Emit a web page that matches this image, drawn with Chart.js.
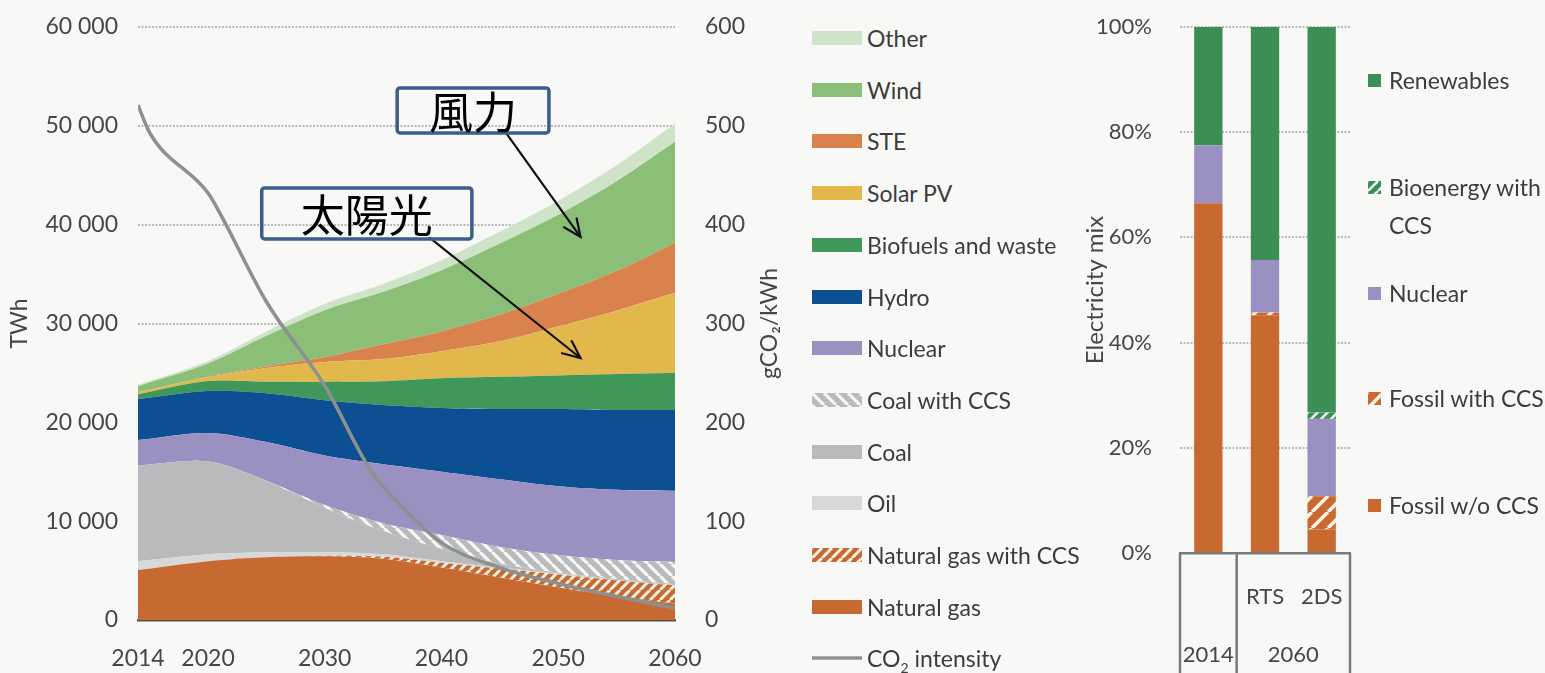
<!DOCTYPE html>
<html>
<head>
<meta charset="utf-8">
<script src="https://cdn.jsdelivr.net/npm/chart.js@4.4.1/dist/chart.umd.min.js"></script>
<style>
  html, body { margin: 0; padding: 0; background: #f8f8f6; }
  #wrap { position: relative; width: 1545px; height: 673px; overflow: hidden; }
  canvas { position: absolute; }
  .leg { position: absolute; color: #3c3c3c; white-space: nowrap; }
  .leg canvas { position: absolute; }
</style>
</head>
<body>
<div id="wrap">
  <canvas id="area" width="800" height="673" style="left:0;top:0;width:800px;height:673px"></canvas>
  <canvas id="mix" width="340" height="673" style="left:1040px;top:0;width:340px;height:673px"></canvas>
  <div id="legendArea"></div>
  <div id="legendMix"></div>
</div>
<script>
// ---- Electricity generation by source (TWh) ----
const years = [2014, 2020, 2025, 2030, 2035, 2040, 2045, 2050, 2055, 2060];
const naturalGas    = [5050, 5950, 6350, 6450, 6200, 5300, 4300, 3300, 2400, 1650];
const naturalGasCcs = [0, 0, 0, 50, 200, 500, 900, 1300, 1600, 1850];
const oil           = [900, 700, 500, 350, 250, 150, 100, 70, 50, 30];
const coal          = [9700, 9400, 7220, 4490, 2350, 1250, 390, 110, 100, 100];
const coalCcs       = [0, 0, 30, 300, 800, 1400, 1700, 1800, 1920, 2240];
const nuclear       = [2550, 2870, 3900, 5000, 5950, 6400, 6850, 6950, 7100, 7200];
const hydro         = [4150, 4250, 4950, 5600, 6000, 6450, 7110, 7820, 8080, 8180];
const biofuels      = [500, 1000, 1150, 1850, 2400, 3000, 3250, 3400, 3650, 3750];
const solarPv       = [200, 400, 1400, 2010, 2250, 2750, 3600, 4950, 6400, 8100];
const ste           = [10, 50, 150, 500, 1500, 2000, 2700, 3300, 4000, 5050];
const wind          = [600, 1330, 3100, 4750, 5300, 6200, 7200, 8000, 9100, 10250];
const other         = [130, 250, 450, 650, 800, 1000, 1200, 1400, 1600, 1800];

// ---- CO2 intensity of electricity (gCO2/kWh) ----
const co2Years     = [2014, 2015, 2020, 2021, 2025, 2030, 2034, 2037, 2040, 2045, 2050, 2055, 2060];
const co2Intensity = [521, 493, 432, 412, 322, 237, 150, 110, 78, 53, 37, 24, 12];

// ---- axis ticks ----
const yearTicks = [2014, 2020, 2030, 2040, 2050, 2060];
const twhTicks = [0, 10000, 20000, 30000, 40000, 50000, 60000];
const intensityTicks = [0, 100, 200, 300, 400, 500, 600];

// ---- Electricity mix (share, %) ----
const mixCategories = ['2014', 'RTS', '2DS'];
const mixScenarioLabels = ['', 'RTS', '2DS'];
const mixGroups = [{ name: '2014', first: 0, last: 0 }, { name: '2060', first: 1, last: 2 }];
const fossilNoCcs = [66.5, 45.2, 4.5];
const fossilCcs   = [0, 0.5, 6.3];
const nuclearMix  = [11.0, 10.0, 14.7];
const bioCcs      = [0, 0, 1.2];
const renewables  = [22.5, 44.3, 73.3];
const mixTicks = [0, 20, 40, 60, 80, 100];

// ---- callout labels on the generation chart ----
const callouts = [
  { label: '風力',   box: [2036.2, 53840, 2049.2, 49280], from: [2045.4, 49490], to: [2051.9, 38760] },
  { label: '太陽光', box: [2024.6, 43720, 2042.6, 38560], from: [2039.0, 38660], to: [2051.9, 26510] }
];

const FONT = 'Lato, "DejaVu Sans Condensed", sans-serif';
const TEXT = '#464646';
Chart.defaults.font.family = FONT;
Chart.defaults.color = TEXT;

// hatch fill: dir > 0 draws '/', dir < 0 draws '\'
function hatch(bg, fg, size, lw, dir) {
  const c = document.createElement('canvas');
  c.width = size; c.height = size;
  const g = c.getContext('2d');
  g.fillStyle = bg; g.fillRect(0, 0, size, size);
  g.strokeStyle = fg; g.lineWidth = lw;
  g.beginPath();
  for (let k = -1; k <= 1; k++) {
    if (dir > 0) { g.moveTo(k * size, size); g.lineTo(k * size + size, 0); }
    else { g.moveTo(k * size, 0); g.lineTo(k * size + size, size); }
  }
  g.stroke();
  return g.createPattern(c, 'repeat');
}

const C = {
  other: '#cfe3c8', wind: '#8bbf78', ste: '#d9824e', solar: '#e2b84c', bio: '#3f975a',
  hydro: '#0c4f93', nuclear: '#9a90c2', coal: '#b8babb', oil: '#d7d8da', gas: '#c76a31',
  co2: '#8b9191', renew: '#3b8f55', fossil: '#c8692f'
};
const coalCcsFill = hatch(C.coal, '#f6f6f4', 12, 3.2, -1);
const gasCcsFill = hatch(C.gas, '#f6efe4', 10, 3, 1);
const fossilCcsFill = hatch(C.fossil, '#f7f1e8', 16, 3.5, 1);
const bioCcsFill = hatch(C.renew, '#f3f6f2', 10, 2.5, 1);

// invisible tick marks used as a fixed gap between axis and labels
const gapTicks = len => ({ drawTicks: true, tickLength: len, tickColor: 'rgba(0,0,0,0)' });

const areaSeries = [
  { name: 'Natural gas', values: naturalGas, fill: C.gas },
  { name: 'Natural gas with CCS', values: naturalGasCcs, fill: gasCcsFill },
  { name: 'Oil', values: oil, fill: C.oil },
  { name: 'Coal', values: coal, fill: C.coal },
  { name: 'Coal with CCS', values: coalCcs, fill: coalCcsFill },
  { name: 'Nuclear', values: nuclear, fill: C.nuclear },
  { name: 'Hydro', values: hydro, fill: C.hydro },
  { name: 'Biofuels and waste', values: biofuels, fill: C.bio },
  { name: 'Solar PV', values: solarPv, fill: C.solar },
  { name: 'STE', values: ste, fill: C.ste },
  { name: 'Wind', values: wind, fill: C.wind },
  { name: 'Other', values: other, fill: C.other }
];

const areaDatasets = areaSeries.map((s, i) => ({
  label: s.name,
  data: years.map((yr, k) => ({ x: yr, y: s.values[k] })),
  backgroundColor: s.fill,
  borderWidth: 0,
  pointRadius: 0,
  tension: 0.3,
  fill: i === 0 ? 'origin' : '-1',
  yAxisID: 'y',
  order: 1
}));

const co2Dataset = {
  label: 'CO₂ intensity',
  data: co2Years.map((yr, k) => ({ x: yr, y: co2Intensity[k] })),
  borderColor: C.co2,
  borderWidth: 3.5,
  pointRadius: 0,
  fill: false,
  cubicInterpolationMode: 'monotone',
  yAxisID: 'y2',
  order: 0
};

const calloutPlugin = {
  id: 'callouts',
  afterDatasetsDraw(chart) {
    const { ctx, scales: { x, y } } = chart;
    ctx.save();
    for (const c of callouts) {
      const ax = x.getPixelForValue(c.from[0]), ay = y.getPixelForValue(c.from[1]);
      const bx = x.getPixelForValue(c.to[0]), by = y.getPixelForValue(c.to[1]);
      ctx.strokeStyle = '#111'; ctx.lineWidth = 2.2; ctx.lineCap = 'round';
      ctx.beginPath(); ctx.moveTo(ax, ay); ctx.lineTo(bx, by); ctx.stroke();
      const ang = Math.atan2(by - ay, bx - ax), L = 19, sp = 0.42;
      ctx.beginPath();
      ctx.moveTo(bx - L * Math.cos(ang - sp), by - L * Math.sin(ang - sp));
      ctx.lineTo(bx, by);
      ctx.lineTo(bx - L * Math.cos(ang + sp), by - L * Math.sin(ang + sp));
      ctx.stroke();
      const x0 = x.getPixelForValue(c.box[0]), y0 = y.getPixelForValue(c.box[1]);
      const x1 = x.getPixelForValue(c.box[2]), y1 = y.getPixelForValue(c.box[3]);
      ctx.lineWidth = 3.5; ctx.strokeStyle = '#3b5e8c';
      ctx.beginPath(); ctx.roundRect(x0, y0, x1 - x0, y1 - y0, 3); ctx.stroke();
      ctx.fillStyle = '#000';
      ctx.font = '44px "Noto Sans CJK JP"';
      ctx.textAlign = 'center'; ctx.textBaseline = 'middle';
      ctx.fillText(c.label, (x0 + x1) / 2, (y0 + y1) / 2 + 2);
    }
    ctx.restore();
  }
};

// right-hand axis title, read bottom to top like the left one
const intensityTitlePlugin = {
  id: 'intensityTitle',
  afterDraw(chart) {
    const { ctx, chartArea } = chart;
    const s = chart.scales.y2;
    ctx.save();
    ctx.translate(s.right - 30, (chartArea.top + chartArea.bottom) / 2);
    ctx.rotate(-Math.PI / 2);
    ctx.fillStyle = TEXT;
    ctx.font = '23px ' + FONT;
    ctx.textAlign = 'center'; ctx.textBaseline = 'middle';
    ctx.fillText('gCO₂/kWh', 0, 0);
    ctx.restore();
  }
};

const areaChart = new Chart(document.getElementById('area'), {
  type: 'line',
  data: { datasets: [...areaDatasets, co2Dataset] },
  options: {
    responsive: false, animation: false, devicePixelRatio: 1,
    layout: { padding: { top: 27, bottom: 0, left: 0, right: 0 } },
    plugins: { legend: { display: false }, tooltip: { enabled: false } },
    scales: {
      x: {
        type: 'linear', min: 2014, max: 2060,
        afterBuildTicks: s => { s.ticks = yearTicks.map(v => ({ value: v })); },
        afterFit: s => { s.height = 53; },
        grid: { display: false, drawTicks: false },
        border: { display: true, color: '#555049', width: 2.5 },
        ticks: { padding: 25, font: { size: 23 }, color: TEXT, maxRotation: 0, callback: v => String(v) }
      },
      y: {
        stacked: true, min: 0, max: 60000,
        afterBuildTicks: s => { s.ticks = twhTicks.map(v => ({ value: v })); },
        afterFit: s => { s.width = 138; },
        grid: { color: '#b9b9b9', lineWidth: 2, ...gapTicks(20) },
        border: { display: false, dash: [2, 1.5] },
        ticks: { padding: 0, font: { size: 23 }, color: TEXT, callback: v => v === 0 ? '0' : (v / 1000) + ' 000' },
        title: { display: true, text: 'TWh', font: { size: 23 }, color: TEXT, padding: { top: 6 } }
      },
      y2: {
        position: 'right', min: 0, max: 600,
        afterBuildTicks: s => { s.ticks = intensityTicks.map(v => ({ value: v })); },
        afterFit: s => { s.width = 125; },
        grid: { display: true, drawOnChartArea: false, color: 'rgba(0,0,0,0)', ...gapTicks(30) },
        border: { display: false },
        ticks: { padding: 0, font: { size: 23 }, color: TEXT }
      }
    }
  },
  plugins: [calloutPlugin, intensityTitlePlugin]
});

// ---- electricity mix bars ----
const framePlugin = {
  id: 'categoryFrame',
  afterDraw(chart) {
    const { ctx, chartArea, scales: { x } } = chart;
    const px = i => x.getPixelForValue(i);
    const half = (px(1) - px(0)) / 2;
    const top = chartArea.bottom, bottom = chart.height + 5;
    ctx.save();
    ctx.strokeStyle = '#7a7a7a'; ctx.lineWidth = 2.5;
    const edges = new Set();
    mixGroups.forEach(g => { edges.add(px(g.first) - half); edges.add(px(g.last) + half); });
    ctx.beginPath();
    edges.forEach(e => { ctx.moveTo(e, top); ctx.lineTo(e, bottom); });
    ctx.stroke();
    ctx.fillStyle = TEXT;
    ctx.font = '22px ' + FONT;
    ctx.textAlign = 'center'; ctx.textBaseline = 'middle';
    mixGroups.forEach(g => ctx.fillText(g.name, (px(g.first) + px(g.last)) / 2, 655));
    ctx.restore();
  }
};

const mixSeries = [
  { name: 'Fossil w/o CCS', values: fossilNoCcs, fill: C.fossil },
  { name: 'Fossil with CCS', values: fossilCcs, fill: fossilCcsFill },
  { name: 'Nuclear', values: nuclearMix, fill: C.nuclear },
  { name: 'Bioenergy with CCS', values: bioCcs, fill: bioCcsFill },
  { name: 'Renewables', values: renewables, fill: C.renew }
];

const mixChart = new Chart(document.getElementById('mix'), {
  type: 'bar',
  data: {
    labels: mixCategories,
    datasets: mixSeries.map(s => ({
      label: s.name, data: s.values, backgroundColor: s.fill, borderWidth: 0,
      barPercentage: 0.5, categoryPercentage: 1.0
    }))
  },
  options: {
    responsive: false, animation: false, devicePixelRatio: 1,
    layout: { padding: { top: 27, right: 0 } },
    plugins: { legend: { display: false }, tooltip: { enabled: false } },
    scales: {
      x: {
        stacked: true,
        afterFit: s => { s.height = 120; },
        grid: { display: true, drawOnChartArea: false, color: 'rgba(0,0,0,0)', ...gapTicks(31) },
        border: { display: true, color: '#7a7a7a', width: 2.5 },
        ticks: { padding: 0, font: { size: 22 }, color: TEXT, callback: (v, i) => mixScenarioLabels[i] }
      },
      y: {
        stacked: true, min: 0, max: 100,
        afterBuildTicks: s => { s.ticks = mixTicks.map(v => ({ value: v })); },
        afterFit: s => { s.width = 140; },
        grid: { color: '#b9b9b9', lineWidth: 2, ...gapTicks(28) },
        border: { display: false, dash: [2, 1.5] },
        ticks: { padding: 0, font: { size: 22 }, color: TEXT, callback: v => v + '%' },
        title: { display: true, text: 'Electricity mix', font: { size: 24 }, color: TEXT, padding: { top: 41 } }
      }
    }
  },
  plugins: [framePlugin]
});

// place each plot area on its frame: top edge and right edge in page pixels
function placeArea(chart, canvasLeft, top, right) {
  const pad = chart.options.layout.padding;
  pad.top += top - chart.chartArea.top;
  pad.right += (chart.chartArea.right + canvasLeft) - right;
  chart.update();
}
placeArea(areaChart, 0, 27, 675);
placeArea(mixChart, 1040, 27, 1350);

// ---- legends ----
function swatch(w, h, fill, line) {
  const c = document.createElement('canvas');
  c.width = w; c.height = h;
  const g = c.getContext('2d');
  if (line) { g.fillStyle = line; g.fillRect(0, h / 2 - 1.7, w, 3.4); }
  else { g.fillStyle = fill; g.fillRect(0, 0, w, h); }
  return c;
}
function addItem(host, left, centerY, textLeft, sw, text, size, lineH) {
  const d = document.createElement('div');
  d.className = 'leg';
  d.style.left = left + 'px';
  d.style.top = (centerY - sw.height / 2) + 'px';
  sw.style.left = '0px'; sw.style.top = '0px';
  d.appendChild(sw);
  const t = document.createElement('div');
  t.className = 'leg';
  t.style.left = (textLeft - left) + 'px';
  t.style.top = (sw.height / 2 - lineH / 2) + 'px';
  t.style.font = size + 'px ' + FONT;
  t.style.lineHeight = lineH + 'px';
  t.innerHTML = text;
  d.appendChild(t);
  host.appendChild(d);
}

const legendA = document.getElementById('legendArea');
[...areaSeries].reverse().forEach((s, i) => {
  addItem(legendA, 812, 38 + i * 51.7, 867, swatch(50, 14, s.fill), s.name, 23, 26);
});
addItem(legendA, 812, 38 + 12 * 51.7, 867, swatch(50, 14, null, C.co2), 'CO<sub style="font-size:14px">2</sub> intensity', 23, 26);

const legendB = document.getElementById('legendMix');
const mixLegendRows = [80, 187, 293, 398, 505];
[...mixSeries].reverse().forEach((s, i) => {
  const label = s.name === 'Bioenergy with CCS' ? 'Bioenergy with<br>CCS' : s.name;
  addItem(legendB, 1368, mixLegendRows[i], 1389, swatch(13, 13, s.fill), label, 23, 38);
});
</script>
</body>
</html>
